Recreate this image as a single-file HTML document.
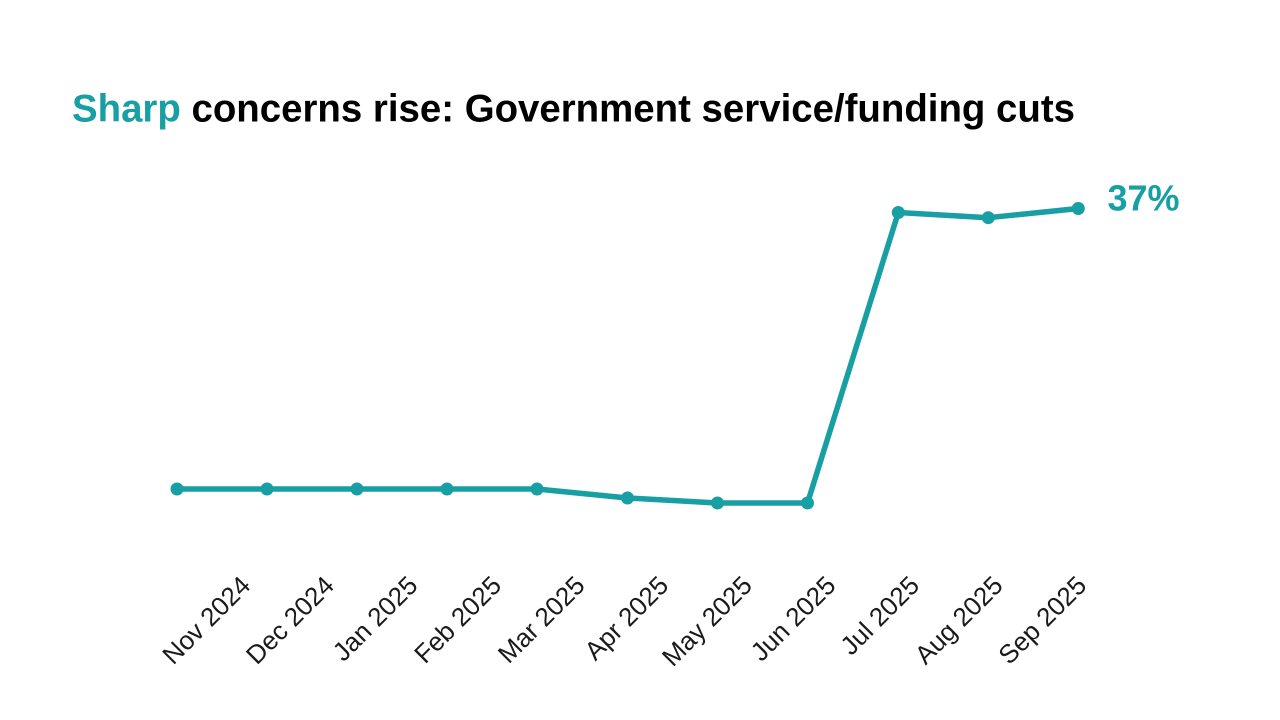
<!DOCTYPE html>
<html>
<head>
<meta charset="utf-8">
<style>
  html, body { margin: 0; padding: 0; background: #ffffff; }
  body { width: 1280px; height: 720px; overflow: hidden; }
  svg { display: block; }
  text { font-family: "Liberation Sans", Arial, Helvetica, sans-serif; }
</style>
</head>
<body>
<svg width="1280" height="720" viewBox="0 0 1280 720" xmlns="http://www.w3.org/2000/svg">
  <rect x="0" y="0" width="1280" height="720" fill="#ffffff"/>

  <!-- Title -->
  <text x="72" y="121.5" font-size="38.5" font-weight="700" fill="#000000" textLength="1003" lengthAdjust="spacingAndGlyphs"><tspan fill="#179fa4">Sharp</tspan> concerns rise: Government service/funding cuts</text>

  <!-- Line -->
  <polyline fill="none" stroke="#179fa4" stroke-width="5.5" stroke-linejoin="round" stroke-linecap="round"
    points="177,489 267,489 357,489 447,489 537,489 627.5,498 717.5,503 807.5,503 898.3,212.5 988.3,217.7 1078.3,208.5"/>
  <g fill="#179fa4">
    <circle cx="177" cy="489" r="6.5"/>
    <circle cx="267" cy="489" r="6.5"/>
    <circle cx="357" cy="489" r="6.5"/>
    <circle cx="447" cy="489" r="6.5"/>
    <circle cx="537" cy="489" r="6.5"/>
    <circle cx="627.5" cy="498" r="6.5"/>
    <circle cx="717.5" cy="503" r="6.5"/>
    <circle cx="807.5" cy="503" r="6.5"/>
    <circle cx="898.3" cy="212.5" r="6.5"/>
    <circle cx="988.3" cy="217.7" r="6.5"/>
    <circle cx="1078.3" cy="208.5" r="6.5"/>
  </g>

  <!-- End label -->
  <text x="1107.5" y="210.5" font-size="36" font-weight="700" fill="#179fa4">37%</text>

  <!-- X axis labels -->
  <g font-size="26" fill="#1a1a1a" text-anchor="end">
    <text transform="translate(252,587) rotate(-45)">Nov 2024</text>
    <text transform="translate(335.6,587) rotate(-45)">Dec 2024</text>
    <text transform="translate(419.2,587) rotate(-45)">Jan 2025</text>
    <text transform="translate(502.8,587) rotate(-45)">Feb 2025</text>
    <text transform="translate(586.4,587) rotate(-45)">Mar 2025</text>
    <text transform="translate(670,587) rotate(-45)">Apr 2025</text>
    <text transform="translate(753.6,587) rotate(-45)">May 2025</text>
    <text transform="translate(837.2,587) rotate(-45)">Jun 2025</text>
    <text transform="translate(920.8,587) rotate(-45)">Jul 2025</text>
    <text transform="translate(1004.4,587) rotate(-45)">Aug 2025</text>
    <text transform="translate(1088,587) rotate(-45)">Sep 2025</text>
  </g>
</svg>
</body>
</html>
